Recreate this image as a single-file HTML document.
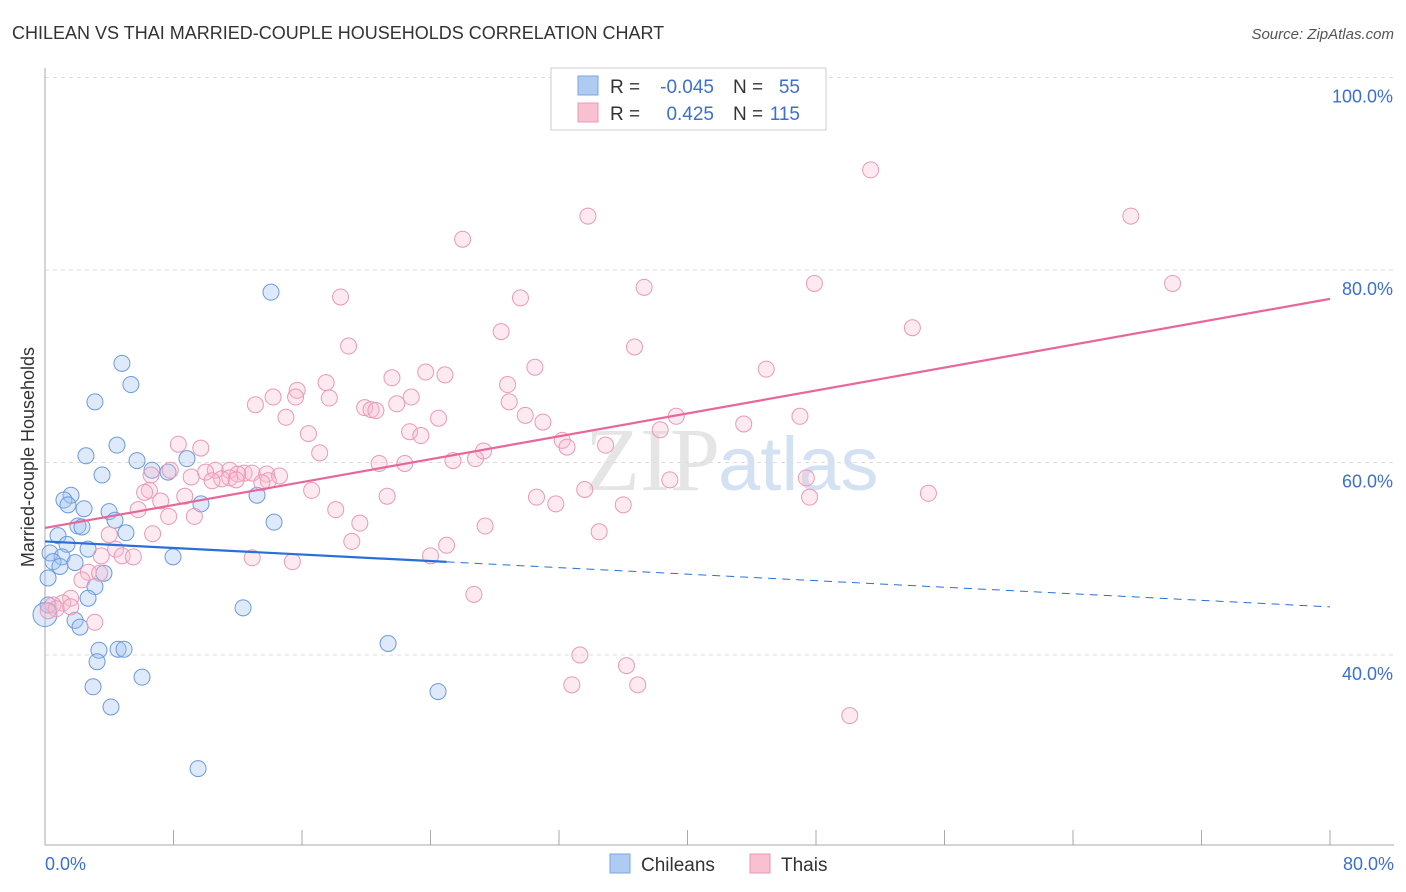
<!DOCTYPE html>
<html><head><meta charset="utf-8"><style>
body{margin:0;background:#fff;font-family:"Liberation Sans",sans-serif;}
svg{display:block}
</style></head><body>
<svg width="1406" height="892" id="chart">
<text x="12" y="39" font-size="18" fill="#333">CHILEAN VS THAI MARRIED-COUPLE HOUSEHOLDS CORRELATION CHART</text>
<text x="1394" y="39" font-size="15" fill="#555" font-style="italic" text-anchor="end">Source: ZipAtlas.com</text>
<text x="720" y="490" font-size="90" fill="#ccc" opacity="0.5" text-anchor="end" font-family="Liberation Serif">ZIP</text>
<text x="718" y="490" font-size="76" fill="#a9c4e8" opacity="0.5">atlas</text>
<text transform="translate(34,457) rotate(-90)" font-size="18" fill="#333" text-anchor="middle">Married-couple Households</text>
<g id="grid"></g><g id="ticks"></g><g id="marks"></g>
<g>
<rect x="551" y="68" width="275" height="62" fill="#fff" stroke="#ccc"/>
<rect x="578" y="76" width="20" height="19" fill="#aecbf2" stroke="#7ea6e0"/>
<rect x="578" y="103" width="20" height="19" fill="#f8c0d0" stroke="#eb98b4"/>
<text x="610" y="93" font-size="19" fill="#333">R =</text>
<text x="714" y="93" font-size="19" fill="#3b6fd1" text-anchor="end">-0.045</text>
<text x="733" y="93" font-size="19" fill="#333">N =</text>
<text x="800" y="93" font-size="19" fill="#3b6fd1" text-anchor="end">55</text>
<text x="610" y="120" font-size="19" fill="#333">R =</text>
<text x="714" y="120" font-size="19" fill="#3b6fd1" text-anchor="end">0.425</text>
<text x="733" y="120" font-size="19" fill="#333">N =</text>
<text x="800" y="120" font-size="19" fill="#3b6fd1" text-anchor="end">115</text>
</g>
<g>
<rect x="610" y="854" width="20" height="19" fill="#aecbf2" stroke="#7ea6e0"/>
<text x="641" y="871" font-size="19" fill="#333">Chileans</text>
<rect x="750" y="854" width="20" height="19" fill="#f8c0d0" stroke="#eb98b4"/>
<text x="781" y="871" font-size="19" fill="#333">Thais</text>
</g>
</svg>
<script>
const yTicks=[40,60,80,100];
const xTickLabels=["0.0%","80.0%"];
const chileX=[14.07,4.79,5.35,3.11,4.48,2.55,5.73,8.84,6.66,7.66,3.55,1.62,1.18,1.43,2.43,9.71,13.2,3.99,4.36,2.05,2.3,5.04,14.26,0.81,1.37,2.68,0.31,1.06,7.97,0.5,0.93,1.87,3.67,0.19,3.11,2.68,0.19,12.33,1.87,2.18,0,3.36,4.55,4.92,21.36,3.24,6.04,2.99,24.47,4.11,9.53];
const chileY=[77.7,70.3,68.1,66.3,61.8,60.7,60.2,60.4,59.2,59.0,58.7,56.6,56.1,55.6,55.2,55.7,56.6,54.9,54.0,53.4,53.3,52.7,53.8,52.4,51.5,51.0,50.6,50.2,50.2,49.7,49.2,49.6,48.5,48.0,47.1,45.9,45.2,44.9,43.6,42.9,44.2,40.5,40.6,40.6,41.2,39.3,37.7,36.7,36.2,34.6,28.2];
const thaiX=[51.4,33.8,67.6,26.0,18.4,29.6,37.3,47.9,70.2,28.4,54.0,18.9,36.7,30.5,44.9,21.6,23.7,24.9,17.5,28.8,15.7,14.2,15.6,17.7,13.1,19.9,20.3,20.6,21.9,22.8,28.9,24.5,15.0,29.9,31.0,39.3,47.0,43.5,16.4,22.7,23.4,38.3,32.2,32.5,34.9,8.3,9.7,27.3,17.1,26.8,25.4,20.8,22.4,10.6,11.5,12.4,10.0,12.9,12.0,13.8,11.5,11.0,14.6,13.9,6.6,7.8,9.1,10.4,11.9,13.5,6.5,8.7,16.6,6.2,21.3,33.6,30.6,38.9,47.4,47.6,55.0,7.2,31.8,36.0,18.1,9.3,7.7,5.8,27.4,19.6,34.5,6.7,19.1,4.0,4.4,3.5,4.8,5.5,12.9,25.0,15.4,24.0,2.7,3.4,2.3,1.6,1.1,0.5,0.7,0.2,1.6,3.1,26.7,33.3,36.2,32.8,36.9,50.1];
const thaiY=[90.4,85.6,85.6,83.2,77.2,77.1,78.2,78.6,78.6,73.6,74.0,72.1,72.0,69.9,69.7,68.8,69.4,69.1,68.3,68.1,67.5,66.8,66.8,66.7,66.0,65.7,65.5,65.4,66.1,66.8,66.3,64.6,64.7,64.9,64.2,64.8,64.8,64.0,63.0,63.2,62.8,63.4,62.3,61.6,61.8,61.9,61.5,61.2,61.0,60.4,60.2,59.9,59.9,59.2,59.2,58.9,59.0,58.9,58.8,58.8,58.4,58.3,58.6,58.1,58.7,59.2,58.5,58.1,58.2,57.9,57.1,56.5,57.1,56.9,56.5,57.2,56.4,58.2,58.4,56.4,56.8,56.0,55.7,55.6,55.1,54.4,54.4,55.1,53.4,53.7,52.8,52.6,51.8,52.5,51.0,50.3,50.3,50.2,50.1,51.4,49.7,50.3,48.6,48.5,47.8,45.9,45.4,45.2,44.8,44.6,45.0,43.4,46.3,40.0,38.9,36.9,36.9,33.7];
const chileTrend=[51.8,45.0];
const thaiTrend=[53.2,77.0];
const NS="http://www.w3.org/2000/svg";
const X=v=>45+v*1285/80, Y=v=>270+(80-v)*9.625;
function mk(t,a,p){const e=document.createElementNS(NS,t);for(const k in a)e.setAttribute(k,a[k]);document.getElementById(p).appendChild(e);return e;}
yTicks.forEach(t=>{const l=mk('line',{x1:45,x2:1394,y1:Y(t),y2:Y(t),stroke:'#ddd','stroke-dasharray':'4,4'},'grid');


const tx=mk('text',{x:1393,y:Y(t)+25,'font-size':18,fill:'#3b6fd1','text-anchor':'end'},'ticks');tx.textContent=t.toFixed(1)+'%';

});
mk('line',{x1:45,x2:45,y1:68,y2:845,stroke:'#aaa'},'grid');
mk('line',{x1:45,x2:1394,y1:845,y2:845,stroke:'#aaa'},'grid');
for(let i=0;i<=10;i++){const l=mk('line',{x1:X(i*8),x2:X(i*8),y1:830,y2:845,stroke:'#aaa'},'grid');

}
[[0,'start',45],[80,'end',1394]].forEach((d,i)=>{const t=mk('text',{x:d[2],y:870,'font-size':18,fill:'#3b6fd1','text-anchor':d[1]},'ticks');t.textContent=xTickLabels[i];

});
chileX.forEach((x,i)=>{const c=mk('circle',{cx:X(x),cy:Y(chileY[i]),r:x===0?12:8,fill:'rgba(160,195,240,0.35)',stroke:'#6b9ade','stroke-width':1},'marks');

});
thaiX.forEach((x,i)=>{const c=mk('circle',{cx:X(x),cy:Y(thaiY[i]),r:8,fill:'rgba(248,185,205,0.3)',stroke:'#eb98b6','stroke-width':1},'marks');

});
const cy=v=>chileTrend[0]+(chileTrend[1]-chileTrend[0])*v/80;
let l1=mk('line',{x1:X(0),y1:Y(cy(0)),x2:X(25),y2:Y(cy(25)),stroke:'#2a6fd6','stroke-width':2.2},'marks');


let l2=mk('line',{x1:X(25),y1:Y(cy(25)),x2:X(80),y2:Y(cy(80)),stroke:'#2a6fd6','stroke-width':1,'stroke-dasharray':'8,6'},'marks');


let l3=mk('line',{x1:X(0),y1:Y(thaiTrend[0]),x2:X(80),y2:Y(thaiTrend[1]),stroke:'#e8679a','stroke-width':2.2},'marks');


</script>
</body></html>
